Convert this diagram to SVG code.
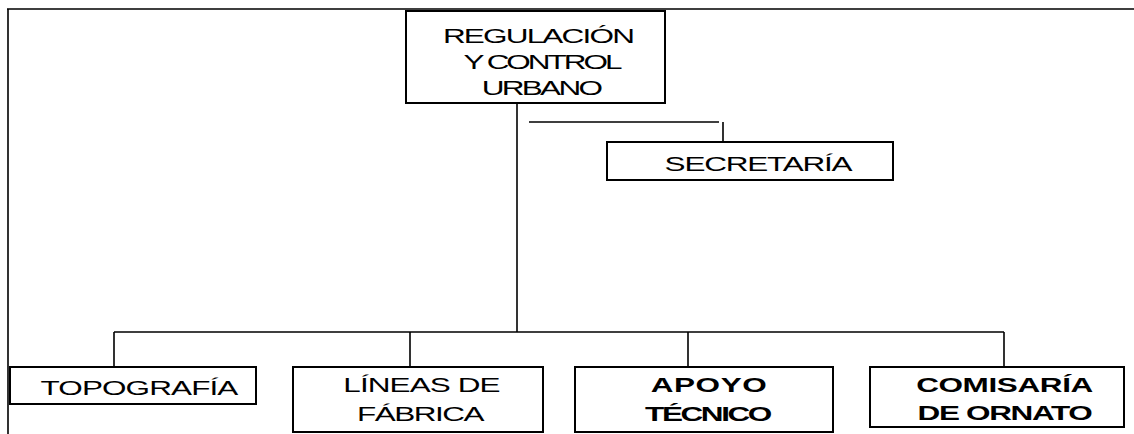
<svg xmlns="http://www.w3.org/2000/svg" width="1134" height="434" viewBox="0 0 1134 434">
<style>
.box{fill:#fff;stroke:#000;stroke-width:2}
.ln{stroke:#000;stroke-width:1.6;fill:none}
.t{font-family:"Liberation Sans",Arial,sans-serif;font-size:21px;fill:#000;text-anchor:middle}
.b{font-weight:bold}
</style>
<rect width="1134" height="434" fill="#fff"/>
<g id="frame">
<path class="ln" d="M7 9H1134M8 9V434" stroke-width="2"/>
</g>
<g id="connectors">
<path class="ln" d="M517 103V332" stroke-width="2.2"/>
<path class="ln" d="M529 122H719M723 122V142"/>
<path class="ln" d="M114 332H1004M114 332V367M410 332V367M688 332V367M1004 332V367"/>
</g>
<g id="n-regulacion">
<rect class="box" x="406" y="11" width="259" height="92"/>
<g transform="translate(538,43) scale(1.5,1)"><text class="t" x="0" y="0" letter-spacing="-1.2">REGULACIÓN</text></g>
<g transform="translate(541.5,69) scale(1.5,1)"><text class="t" x="0" y="0" letter-spacing="-2">Y CONTROL</text></g>
<g transform="translate(541,94.5) scale(1.5,1)"><text class="t" x="0" y="0" letter-spacing="-1.8">URBANO</text></g>
</g>
<g id="n-secretaria">
<rect class="box" x="607" y="142" width="286" height="38"/>
<g transform="translate(758,170.5) scale(1.5,1)"><text class="t" x="0" y="0" letter-spacing="-0.8">SECRETARÍA</text></g>
</g>
<g id="n-topografia">
<rect class="box" x="10" y="367" width="246" height="37"/>
<g transform="translate(139,395) scale(1.5,1)"><text class="t" x="0" y="0" letter-spacing="-0.6">TOPOGRAFÍA</text></g>
</g>
<g id="n-lineas">
<rect class="box" x="293" y="367" width="250" height="65"/>
<g transform="translate(421.5,391.5) scale(1.5,1)"><text class="t" x="0" y="0" letter-spacing="-0.6">LÍNEAS DE</text></g>
<g transform="translate(420,420.5) scale(1.5,1)"><text class="t" x="0" y="0" letter-spacing="-1">FÁBRICA</text></g>
</g>
<g id="n-apoyo">
<rect class="box" x="575" y="367" width="258" height="65"/>
<g transform="translate(709,391.5) scale(1.5,1)"><text class="t b" x="0" y="0" letter-spacing="0.4">APOYO</text></g>
<g transform="translate(707.5,420.5) scale(1.5,1)"><text class="t b" x="0" y="0" letter-spacing="-1.6">TÉCNICO</text></g>
</g>
<g id="n-comisaria">
<rect class="box" x="870" y="367" width="254" height="60"/>
<g transform="translate(1004.5,391.5) scale(1.5,1)"><text class="t b" x="0" y="0" letter-spacing="-0.25">COMISARÍA</text></g>
<g transform="translate(1004.5,419.5) scale(1.5,1)"><text class="t b" x="0" y="0" letter-spacing="-0.9">DE ORNATO</text></g>
</g>
</svg>
